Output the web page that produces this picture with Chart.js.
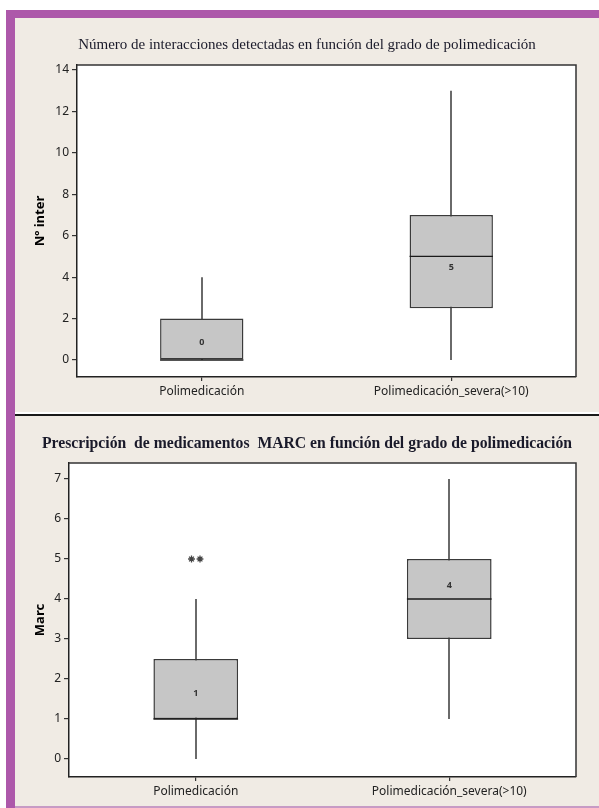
<!DOCTYPE html>
<html><head><meta charset="utf-8">
<script src="https://cdn.jsdelivr.net/npm/chart.js@4"></script>
<style>
html,body{margin:0;padding:0;background:#fff;}
body{width:599px;height:808px;position:relative;overflow:hidden;}
#panel{position:absolute;left:15px;top:18px;width:584px;height:789px;background:#f0ebe4;}
#topbar{position:absolute;left:6px;top:10px;width:593px;height:8px;background:#ad58aa;}
#leftbar{position:absolute;left:6px;top:10px;width:9px;height:798px;background:#ad58aa;}
#bottomline{position:absolute;left:15px;top:806px;width:584px;height:2px;background:#c79bc5;}
#sepw{position:absolute;left:15px;top:412px;width:584px;height:2px;background:#fff;}
#sepb{position:absolute;left:15px;top:414px;width:584px;height:2px;background:#1a1a1a;}
#c1wrap{position:absolute;left:15px;top:18px;width:584px;height:394px;}
#c2wrap{position:absolute;left:15px;top:416px;width:584px;height:390px;}
</style>
</head>
<body>
<div id="panel"></div>
<div id="topbar"></div>
<div id="leftbar"></div>
<div id="bottomline"></div>
<div id="sepw"></div>
<div id="sepb"></div>
<div id="c1wrap"><canvas id="c1" width="584" height="394"></canvas></div>
<div id="c2wrap"><canvas id="c2" width="584" height="390"></canvas></div>
<script>
// ---------- data ----------
const categories = ['Polimedicación', 'Polimedicación_severa(>10)'];

// Chart 1: Nº inter
const interMin = [0, 0];
const interQ1 = [0, 2.5];
const interMedian = [0, 5];
const interQ3 = [2, 7];
const interMax = [4, 13];
const interLabelPos = [0.85, 4.45];
const interOutliers = [[], []];
const interTicks = [0, 2, 4, 6, 8, 10, 12, 14];

// Chart 2: Marc
const marcMin = [0, 1];
const marcQ1 = [1, 3];
const marcMedian = [1, 4];
const marcQ3 = [2.5, 5];
const marcMax = [4, 7];
const marcLabelPos = [1.63, 4.33];
const marcOutliers = [[5, 5], []];
const marcTicks = [0, 1, 2, 3, 4, 5, 6, 7];

// ---------- plugin ----------
const boxPlugin = {
  id: 'boxExtras',
  beforeDraw(chart) {
    const a = chart.chartArea, ctx = chart.ctx;
    ctx.save();
    ctx.fillStyle = '#ffffff';
    ctx.fillRect(a.left, a.top, a.right - a.left, a.bottom - a.top);
    ctx.restore();
  },
  beforeDatasetsDraw(chart, args, o) {
    const ctx = chart.ctx, xs = chart.scales.x, ys = chart.scales.y;
    ctx.save();
    ctx.strokeStyle = '#6a6a6a';
    ctx.lineWidth = 2;
    o.min.forEach((mn, i) => {
      const x = Math.round(xs.getPixelForValue(i));
      ctx.beginPath();
      ctx.moveTo(x, ys.getPixelForValue(mn));
      ctx.lineTo(x, ys.getPixelForValue(o.max[i]));
      ctx.stroke();
    });
    ctx.restore();
  },
  afterDatasetsDraw(chart, args, o) {
    const ctx = chart.ctx, xs = chart.scales.x, ys = chart.scales.y;
    const meta = chart.getDatasetMeta(0);
    ctx.save();
    o.median.forEach((md, i) => {
      const bar = meta.data[i];
      const half = bar.width / 2;
      const y = ys.getPixelForValue(md);
      ctx.strokeStyle = '#1a1a1a';
      ctx.lineWidth = 1.3;
      ctx.beginPath();
      ctx.moveTo(bar.x - half, y);
      ctx.lineTo(bar.x + half, y);
      ctx.stroke();
      ctx.fillStyle = '#333';
      ctx.font = 'bold 9px "Noto Sans"';
      ctx.textAlign = 'center';
      ctx.textBaseline = 'middle';
      ctx.fillText(String(md), bar.x, ys.getPixelForValue(o.labelPos[i]));
    });
    ctx.strokeStyle = '#444';
    o.outliers.forEach((list, i) => {
      const cx = xs.getPixelForValue(i);
      const n = list.length;
      list.forEach((v, k) => {
        const x = cx + (k - (n - 1) / 2) * 8.5;
        Chart.helpers.drawPoint(ctx, {pointStyle: 'star', radius: 3.4, rotation: 0, borderWidth: 0.9}, x, ys.getPixelForValue(v));
      });
    });
    ctx.restore();
  },
  afterDraw(chart) {
    const a = chart.chartArea, ctx = chart.ctx;
    ctx.save();
    ctx.strokeStyle = '#333';
    ctx.lineWidth = 1.5;
    ctx.beginPath();
    ctx.moveTo(a.left, a.top);
    ctx.lineTo(a.right, a.top);
    ctx.lineTo(a.right, a.bottom);
    ctx.stroke();
    ctx.restore();
  }
};

function makeChart(id, cfg) {
  const ctx = document.getElementById(id);
  const lh = cfg.titleSize * 1.2;
  return new Chart(ctx, {
    type: 'bar',
    data: {
      labels: categories,
      datasets: [{
        data: cfg.q1.map((q, i) => [q, cfg.q3[i]]),
        backgroundColor: '#c6c6c6',
        borderColor: '#3a3a3a',
        borderWidth: 1.5,
        borderSkipped: false,
        barPercentage: 0.334,
        categoryPercentage: 1
      }]
    },
    options: {
      responsive: false,
      animation: false,
      layout: {padding: 0},
      plugins: {
        legend: {display: false},
        tooltip: {enabled: false},
        title: {
          display: true,
          text: cfg.title,
          color: '#1a1a2a',
          font: {family: '"Liberation Serif", "Times New Roman", serif', size: cfg.titleSize, weight: cfg.titleBold ? 'bold' : 'normal', lineHeight: 1.2},
          padding: {top: cfg.titleCenter - lh / 2, bottom: 47 - cfg.titleCenter - lh / 2}
        },
        boxExtras: {
          min: cfg.min, max: cfg.max, median: cfg.median,
          labelPos: cfg.labelPos, outliers: cfg.outliers
        }
      },
      scales: {
        x: {
          afterFit: s => { s.height = cfg.xHeight; },
          grid: {drawOnChartArea: false, offset: false, tickLength: 4, color: '#333', lineWidth: 1.2},
          border: {display: true, color: '#222', width: 1.5},
          ticks: {padding: 3, color: '#222', maxRotation: 0, autoSkip: false,
                  font: {family: '"Noto Sans"', size: 12}}
        },
        y: {
          min: cfg.yMin, max: cfg.yMax,
          afterBuildTicks: s => { s.ticks = cfg.ticks.map(v => ({value: v})); },
          afterFit: s => { s.width = cfg.yWidth; },
          grid: {drawOnChartArea: false, tickLength: 5, color: '#333', lineWidth: 1.2},
          border: {display: true, color: '#222', width: 1.5},
          ticks: {padding: 3, color: '#222', font: {family: '"Noto Sans"', size: 12}},
          title: {display: true, text: cfg.yTitle, color: '#000',
                  font: {family: '"Noto Sans"', size: 13, weight: 'bold', lineHeight: 1.2},
                  padding: {top: 17, bottom: 0}}
        },
        yRight: {
          type: 'linear',
          position: 'right',
          display: true,
          afterFit: s => { s.width = 23; },
          grid: {display: false},
          border: {display: false},
          ticks: {display: false}
        }
      }
    },
    plugins: [boxPlugin]
  });
}

makeChart('c1', {
  title: 'Número de interacciones detectadas en función del grado de polimedicación',
  titleBold: false, titleSize: 15, titleCenter: 27,
  yTitle: 'Nº inter',
  q1: interQ1, q3: interQ3, min: interMin, max: interMax, median: interMedian,
  labelPos: interLabelPos, outliers: interOutliers, ticks: interTicks,
  yMin: -0.82, yMax: 14.24, yWidth: 62, xHeight: 35
});

makeChart('c2', {
  title: 'Prescripción  de medicamentos  MARC en función del grado de polimedicación',
  titleBold: true, titleSize: 15.7, titleCenter: 28,
  yTitle: 'Marc',
  q1: marcQ1, q3: marcQ3, min: marcMin, max: marcMax, median: marcMedian,
  labelPos: marcLabelPos, outliers: marcOutliers, ticks: marcTicks,
  yMin: -0.45, yMax: 7.4, yWidth: 54, xHeight: 29
});
</script>
</body></html>
